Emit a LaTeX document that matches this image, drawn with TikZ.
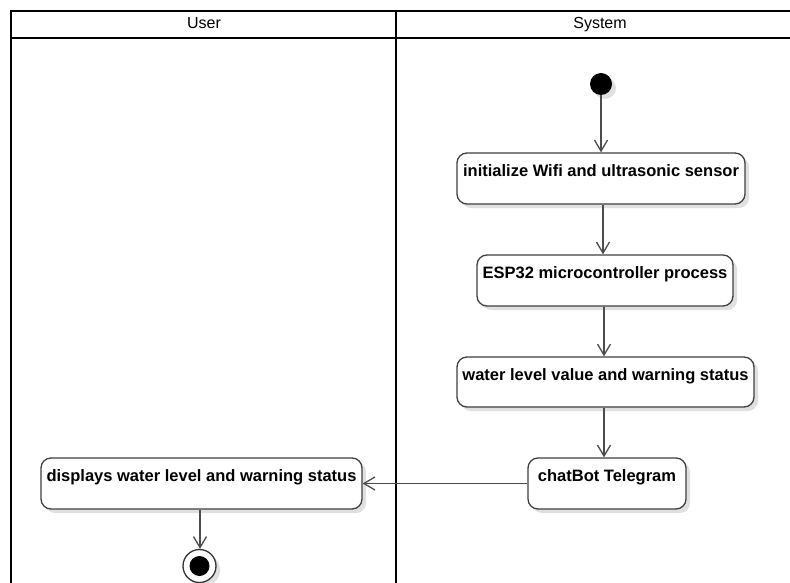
\documentclass[tikz,border=0pt]{standalone}
\usepackage{fontspec}
\setmainfont{Liberation Sans}
\usetikzlibrary{arrows.meta,shadows}
\begin{document}
\begin{tikzpicture}[x=1pt,y=-1pt,
  lane/.style={line width=2pt,black},
  shad/.style={drop shadow={shadow xshift=4pt,shadow yshift=-4pt,fill=black!12,opacity=1}},
  actbox/.style={draw=black!75,line width=1.3pt,rounded corners=10pt,fill=white,shad,inner sep=0pt},
  lbl/.style={font=\fontsize{16.5}{19}\selectfont\bfseries,inner sep=0pt,text=black,anchor=base},
  hdr/.style={font=\fontsize{16}{19}\selectfont,inner sep=0pt,anchor=base},
  flow/.style={draw=black!70,line width=1.3pt,-{Straight Barb[length=11pt,width=13pt,line width=1.3pt]}}
]
\useasboundingbox (0,0) rectangle (790,583);
\fill[white] (0,0) rectangle (790,583);
% swimlane frame
\draw[lane] (11,583) -- (11,11) -- (790,11);
\draw[lane] (11,38) -- (790,38);
\draw[lane] (396,11) -- (396,583);
\node[hdr] (hu) at (204,29) {User};
\node[hdr] (hs) at (600,29) {System};
% initial node
\node[circle,fill=black,minimum size=22pt,inner sep=0pt,shad] (start) at (601,84) {};
% activities
\node[actbox,minimum width=288pt,minimum height=51pt] (b1) at (601,178.5) {};
\node[lbl] (t1) at ([yshift=-24.5pt]b1.north) {initialize Wifi and ultrasonic sensor};
\node[actbox,minimum width=256pt,minimum height=51pt] (b2) at (605,280.5) {};
\node[lbl] (t2) at ([yshift=-24.5pt]b2.north) {ESP32 microcontroller process};
\node[actbox,minimum width=297pt,minimum height=50pt] (b3) at (605.5,382) {};
\node[lbl] (t3) at ([yshift=-24.5pt]b3.north) {water level value and warning status};
\node[actbox,minimum width=158pt,minimum height=51pt] (b4) at (607,483.5) {};
\node[lbl] (t4) at ([yshift=-24.5pt]b4.north) {chatBot Telegram};
\node[actbox,minimum width=321pt,minimum height=51pt] (b5) at (201.5,483.5) {};
\node[lbl] (t5) at ([yshift=-24.5pt]b5.north) {displays water level and warning status};
% final node
\node[circle,draw=black!80,line width=1.3pt,fill=white,minimum size=33pt,inner sep=0pt,shad] (end) at (199.5,566) {};
\node[circle,fill=black,minimum size=20pt,inner sep=0pt] (endin) at (end.center) {};
% flows
\draw[flow] (start) -- (b1.north -| start);
\draw[flow] (b1.south -| 603,0) -- (b2.north -| 603,0);
\draw[flow] (b2.south -| 604,0) -- (b3.north -| 604,0);
\draw[flow] (b3.south -| 604,0) -- (b4.north -| 604,0);
\draw[flow] (b4.west) -- (b5.east);
\draw[flow] (b5.south -| 200,0) -- (end.north -| 200,0);
\end{tikzpicture}
\end{document}
